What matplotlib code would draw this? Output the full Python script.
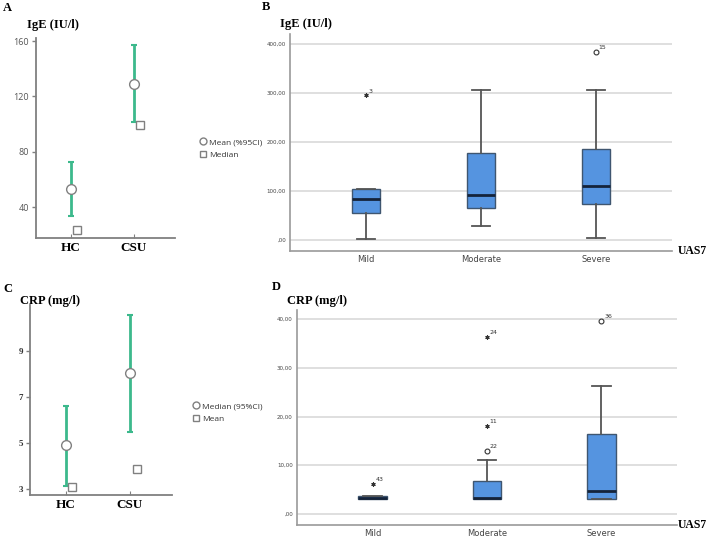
import numpy as np
import matplotlib
matplotlib.use('Agg')
import matplotlib.pyplot as plt
from matplotlib.lines import Line2D

# ---- data ----
groups = ['HC', 'CSU']
ige_mean = [53, 129]
ige_ci_lo = [33.5, 101.5]
ige_ci_hi = [72.5, 157]
ige_median = [23.5, 99]

crp_median = [4.9, 8.05]
crp_ci_lo = [3.15, 5.5]
crp_ci_hi = [6.6, 10.55]
crp_mean = [3.1, 3.87]

uas7 = ['Mild', 'Moderate', 'Severe']
ige_box_lo = [2, 28, 3.5]
ige_box_q1 = [56, 65, 74]
ige_box_med = [83, 92, 110]
ige_box_q3 = [105, 177, 186]
ige_box_hi = [105, 305, 305]
# outliers: group index, value, label, kind
ige_out_x = [0, 2]
ige_out_y = [295, 383]
ige_out_lab = ['3', '15']
ige_out_kind = ['*', 'o']

crp_box_lo = [3.1, 3.1, 3.1]
crp_box_q1 = [3.1, 3.1, 3.1]
crp_box_med = [3.3, 3.2, 4.6]
crp_box_q3 = [3.6, 6.8, 16.5]
crp_box_hi = [3.6, 11.0, 26.3]
crp_out_x = [0, 1, 1, 1, 2]
crp_out_y = [6.2, 36.4, 18.1, 13.0, 39.6]
crp_out_lab = ['43', '24', '11', '22', '36']
crp_out_kind = ['*', '*', '*', 'o', 'o']

W, H = 709, 538
fig = plt.figure(figsize=(W / 100, H / 100), dpi=100)
fig.patch.set_facecolor('white')

serif = 'Liberation Serif'
green = '#3cb98c'
gray = '#808080'


def px_axes(x0, y0, x1, y1):
    return fig.add_axes([x0 / W, 1 - y1 / H, (x1 - x0) / W, (y1 - y0) / H])


def ci_panel(ax, center, lo, hi, other, ylim, yticks, tickfont, legend_labels, leg_xy):
    x = np.arange(len(groups))
    c = np.array(center)
    ax.errorbar(x, c, yerr=[c - np.array(lo), np.array(hi) - c], fmt='none',
                ecolor=green, elinewidth=2, capsize=2, capthick=1.5, zorder=2)
    ax.plot(x, c, 'o', ms=7, mfc='white', mec=gray, mew=1, zorder=3)
    ax.plot(x + 0.1, other, 's', ms=6, mfc='white', mec=gray, mew=1, zorder=3)
    ax.set_xlim(-0.55, 1.65)
    ax.set_ylim(*ylim)
    ax.set_yticks(yticks)
    ax.set_xticks(x)
    ax.set_xticklabels(groups, fontfamily=serif, fontweight='bold', fontsize=9.5)
    for lab in ax.get_yticklabels():
        lab.update(tickfont)
    for s in ['top', 'right']:
        ax.spines[s].set_visible(False)
    for s in ['left', 'bottom']:
        ax.spines[s].set_color(gray)
        ax.spines[s].set_linewidth(1.3)
    ax.tick_params(axis='y', length=3, color=gray, width=1, pad=2)
    ax.tick_params(axis='x', length=3, color=gray, width=0.8, direction='in', pad=3)
    handles = [Line2D([], [], ls='none', marker='o', ms=5, mfc='white', mec=gray),
               Line2D([], [], ls='none', marker='s', ms=4.5, mfc='white', mec=gray)]
    fig.legend(handles, legend_labels, loc='upper left',
               bbox_to_anchor=(leg_xy[0] / W, 1 - leg_xy[1] / H), frameon=False,
               handletextpad=0.2, labelspacing=0.6, handlelength=1.2,
               labelcolor='#333333', prop={'family': 'Open Sans', 'size': 6})


def box_panel(ax, lo, q1, med, q3, hi, ox, oy, olab, okind, ylim, yticks, ytlabels):
    stats = []
    for i in range(len(uas7)):
        stats.append({'whislo': lo[i], 'q1': q1[i], 'med': med[i], 'q3': q3[i],
                      'whishi': hi[i], 'fliers': []})
    ax.bxp(stats, positions=range(len(uas7)), widths=0.25, patch_artist=True,
           showfliers=False,
           boxprops=dict(facecolor='#5594e0', edgecolor='#3f5670', linewidth=1),
           medianprops=dict(color='#14233a', linewidth=2),
           whiskerprops=dict(color='#555555', linewidth=1.3),
           capprops=dict(color='#555555', linewidth=1.3),
           capwidths=0.16)
    for x, y, lab, k in zip(ox, oy, olab, okind):
        if k == 'o':
            ax.plot(x, y, 'o', ms=3.5, mfc='white', mec='#333333', mew=0.8)
        else:
            ax.plot(x, y, marker=(6, 2, 0), ms=3, color='#333333', mew=0.8)
        ax.annotate(lab, (x, y), xytext=(2, 2), textcoords='offset points',
                    fontsize=4.5, color='#333333')
    ax.set_xlim(-0.66, 2.66)
    ax.set_ylim(*ylim)
    ax.set_yticks(yticks)
    ax.set_yticklabels(ytlabels, fontsize=4, color='#444444')
    ax.set_xticks(range(len(uas7)))
    ax.set_xticklabels(uas7, fontsize=6, color='#444444')
    ax.yaxis.grid(True, color='#dcdcdc', linewidth=1.3)
    ax.set_axisbelow(True)
    for s in ['top', 'right']:
        ax.spines[s].set_visible(False)
    for s in ['left', 'bottom']:
        ax.spines[s].set_color('#9a9a9a')
        ax.spines[s].set_linewidth(1.2)
    ax.tick_params(length=0, pad=3)


# ---- A ----
axA = px_axes(36, 38, 175, 238)
ci_panel(axA, ige_mean, ige_ci_lo, ige_ci_hi, ige_median, (17.6, 162.2),
         [40, 80, 120, 160], dict(fontsize=6.5, color='#555555', family='Open Sans'),
         ['Mean (%95CI)', 'Median'], (190, 131))
fig.text(3 / W, 1 - 8 / H, 'A', fontfamily=serif, fontweight='bold', fontsize=9, va='center')
fig.text(27 / W, 1 - 25 / H, 'IgE (IU/l)', fontfamily=serif, fontweight='bold', fontsize=9, va='center')

# ---- B ----
axB = px_axes(290, 34, 672, 251)
box_panel(axB, ige_box_lo, ige_box_q1, ige_box_med, ige_box_q3, ige_box_hi,
          ige_out_x, ige_out_y, ige_out_lab, ige_out_kind, (-22.4, 420),
          [0, 100, 200, 300, 400], [',00', '100,00', '200,00', '300,00', '400,00'])
fig.text(262 / W, 1 - 7 / H, 'B', fontfamily=serif, fontweight='bold', fontsize=9, va='center')
fig.text(280 / W, 1 - 24 / H, 'IgE (IU/l)', fontfamily=serif, fontweight='bold', fontsize=9, va='center')
fig.text(678 / W, 1 - 251 / H, 'UAS7', fontfamily=serif, fontweight='bold', fontsize=8.5, va='center')

# ---- C ----
axC = px_axes(30, 305, 172, 495)
ci_panel(axC, crp_median, crp_ci_lo, crp_ci_hi, crp_mean, (2.74, 11.0),
         [3, 5, 7, 9], dict(fontsize=6.5, color='#333333', family=serif, weight='bold'),
         ['Median (95%CI)', 'Mean'], (183, 395))
fig.text(3 / W, 1 - 289 / H, 'C', fontfamily=serif, fontweight='bold', fontsize=9, va='center')
fig.text(20 / W, 1 - 301 / H, 'CRP (mg/l)', fontfamily=serif, fontweight='bold', fontsize=9, va='center')

# ---- D ----
axD = px_axes(297, 310, 677, 525)
box_panel(axD, crp_box_lo, crp_box_q1, crp_box_med, crp_box_q3, crp_box_hi,
          crp_out_x, crp_out_y, crp_out_lab, crp_out_kind, (-2.3, 41.9),
          [0, 10, 20, 30, 40], [',00', '10,00', '20,00', '30,00', '40,00'])
fig.text(272 / W, 1 - 287 / H, 'D', fontfamily=serif, fontweight='bold', fontsize=9, va='center')
fig.text(287 / W, 1 - 301 / H, 'CRP (mg/l)', fontfamily=serif, fontweight='bold', fontsize=9, va='center')
fig.text(678 / W, 1 - 525 / H, 'UAS7', fontfamily=serif, fontweight='bold', fontsize=8.5, va='center')

fig.savefig('out.png', dpi=100)
